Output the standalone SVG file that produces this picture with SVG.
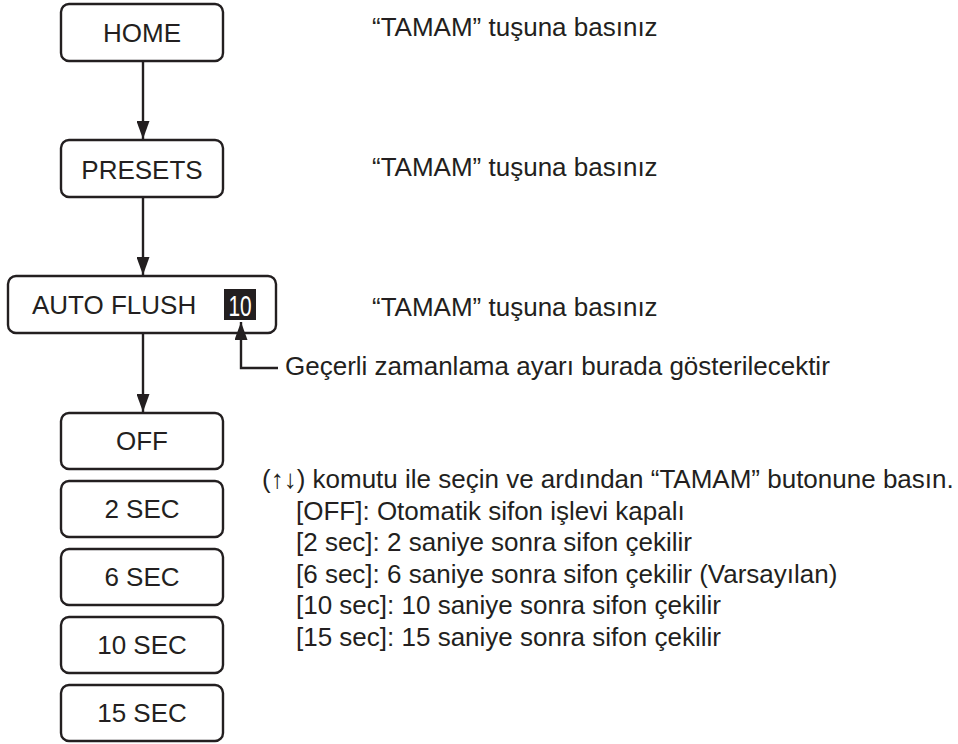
<svg xmlns="http://www.w3.org/2000/svg" width="958" height="744" viewBox="0 0 958 744">
<defs>
<style>
.box{fill:#fff;stroke:#231f20;stroke-width:2.4}
.t{font-family:"Liberation Sans",Arial,sans-serif;font-size:26px;fill:#231f20}
.c{text-anchor:middle}
.ln{fill:none;stroke:#231f20;stroke-width:2.4}
</style>
<marker id="ah" viewBox="0 0 18 13" refX="18" refY="6.5" markerWidth="18" markerHeight="13" markerUnits="userSpaceOnUse" orient="auto"><path d="M0,0 L18,6.5 L0,13 Z" fill="#231f20"/></marker>
</defs>
<rect width="958" height="744" fill="#fff"/>
<g id="home"><rect class="box" x="61" y="4" width="162" height="57" rx="8"/><text class="t c" x="142" y="42">HOME</text></g>
<g id="presets"><rect class="box" x="61" y="140" width="162" height="57" rx="8"/><text class="t c" x="142" y="179">PRESETS</text></g>
<g id="autoflush"><rect class="box" x="8" y="276" width="268" height="57" rx="8"/><text class="t" x="32" y="314">AUTO FLUSH</text><rect x="224" y="289" width="32" height="31" fill="#231f20"/><text transform="translate(240,316) scale(0.72,1)" text-anchor="middle" font-family="Liberation Sans,Arial,sans-serif" font-size="29" fill="#fff">10</text></g>
<g id="off"><rect class="box" x="61" y="413" width="162" height="56" rx="8"/><text class="t c" x="142" y="450">OFF</text></g>
<g id="sec2"><rect class="box" x="61" y="481" width="162" height="56" rx="8"/><text class="t c" x="142" y="518">2 SEC</text></g>
<g id="sec6"><rect class="box" x="61" y="549" width="162" height="56" rx="8"/><text class="t c" x="142" y="586">6 SEC</text></g>
<g id="sec10"><rect class="box" x="61" y="617" width="162" height="56" rx="8"/><text class="t c" x="142" y="654">10 SEC</text></g>
<g id="sec15"><rect class="box" x="61" y="685" width="162" height="56" rx="8"/><text class="t c" x="142" y="722">15 SEC</text></g>
<g id="connectors">
<line class="ln" x1="143" y1="61" x2="143" y2="139" marker-end="url(#ah)"/>
<line class="ln" x1="143" y1="197" x2="143" y2="275" marker-end="url(#ah)"/>
<line class="ln" x1="143" y1="333" x2="143" y2="412" marker-end="url(#ah)"/>
<polyline class="ln" points="278,368 241,368 241,322" marker-end="url(#ah)"/>
</g>
<g id="notes">
<text class="t" x="372" y="36">“TAMAM” tuşuna basınız</text>
<text class="t" x="372" y="176">“TAMAM” tuşuna basınız</text>
<text class="t" x="372" y="316">“TAMAM” tuşuna basınız</text>
<text class="t" x="285" y="375">Geçerli zamanlama ayarı burada gösterilecektir</text>
<text class="t" x="262" y="488">(↑↓) komutu ile seçin ve ardından “TAMAM” butonune basın.</text>
<text class="t" x="296" y="520">[OFF]: Otomatik sifon işlevi kapalı</text>
<text class="t" x="296" y="551">[2 sec]: 2 saniye sonra sifon çekilir</text>
<text class="t" x="296" y="583">[6 sec]: 6 saniye sonra sifon çekilir (Varsayılan)</text>
<text class="t" x="296" y="614">[10 sec]: 10 saniye sonra sifon çekilir</text>
<text class="t" x="296" y="646">[15 sec]: 15 saniye sonra sifon çekilir</text>
</g>
</svg>
